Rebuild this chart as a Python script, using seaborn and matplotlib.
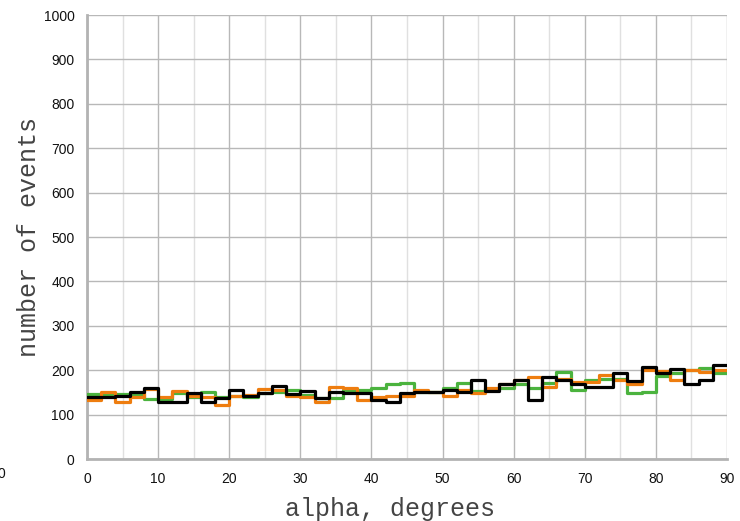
import seaborn as sns
import matplotlib.pyplot as plt
import pandas as pd
from matplotlib.ticker import MultipleLocator

# histogram counts, 2-degree bins from 0 to 90
bin_edges = list(range(0, 92, 2))
green = [146, 146, 146, 146, 135, 135, 148, 140, 152, 140,
         142, 140, 149, 152, 155, 144, 137, 137, 155, 155,
         159, 169, 172, 152, 152, 159, 172, 154, 157, 161,
         170, 159, 172, 197, 155, 179, 181, 181, 149, 152,
         187, 193, 200, 206, 193]
orange = [133, 152, 129, 139, 157, 140, 154, 142, 140, 121,
          142, 144, 157, 155, 142, 139, 129, 163, 159, 133,
          139, 142, 142, 155, 152, 142, 155, 149, 159, 169,
          178, 184, 163, 181, 174, 174, 189, 178, 170, 200,
          199, 178, 200, 195, 200]
black = [140, 140, 143, 152, 159, 129, 129, 149, 129, 137,
         155, 142, 148, 164, 146, 154, 137, 152, 149, 148,
         134, 129, 149, 152, 152, 155, 152, 179, 154, 169,
         178, 133, 184, 179, 170, 163, 163, 193, 176, 208,
         193, 202, 170, 179, 212]
series_names = ["green", "orange", "black"]
series_values = [green, orange, black]
colors = {"green": "#4bb33e", "orange": "#ee7d0f", "black": "#000000"}

rows = []
for name, vals in zip(series_names, series_values):
    for x, v in zip(bin_edges, vals + [vals[-1]]):
        rows.append({"alpha": x, "events": v, "series": name})
df = pd.DataFrame(rows)

sns.set_style("white")
fig = plt.figure(figsize=(7.4, 5.21), dpi=100)
ax = fig.add_axes([0.1176, 0.119, 0.8648, 0.852])

sns.lineplot(data=df, x="alpha", y="events", hue="series", palette=colors,
             estimator=None, drawstyle="steps-post", linewidth=2.3,
             legend=False, ax=ax, zorder=3)

ax.set_xlim(0, 90)
ax.set_ylim(0, 1000)
ax.xaxis.set_major_locator(MultipleLocator(10))
ax.xaxis.set_minor_locator(MultipleLocator(5))
ax.yaxis.set_major_locator(MultipleLocator(100))
ax.grid(which="major", axis="both", color="#b8b8b8", linewidth=1.0)
ax.grid(which="minor", axis="x", color="#e0e0e0", linewidth=1.0)
ax.set_axisbelow(True)

for side in ["top", "right"]:
    ax.spines[side].set_visible(False)
for side in ["left", "bottom"]:
    ax.spines[side].set_color("#b3b3b3")
    ax.spines[side].set_linewidth(2)

ax.tick_params(which="major", direction="out", length=5, width=1.2, color="#b3b3b3",
               labelsize=10, labelcolor="#111111", pad=4)
ax.tick_params(which="minor", length=0)
for lab in ax.get_xticklabels() + ax.get_yticklabels():
    lab.set_family("Liberation Sans")

ax.set_xlabel("alpha, degrees", family="Liberation Mono", fontsize=18,
              color="#444444")
ax.xaxis.set_label_coords(0.473, -0.085)
ax.set_ylabel("number of events", family="Liberation Mono", fontsize=18,
              color="#444444")
ax.yaxis.set_label_coords(-0.072, 0.5)

fig.text(-0.004, 0.083, "0", family="Liberation Sans", fontsize=10, color="#111111")

fig.savefig("out.png", dpi=100)
